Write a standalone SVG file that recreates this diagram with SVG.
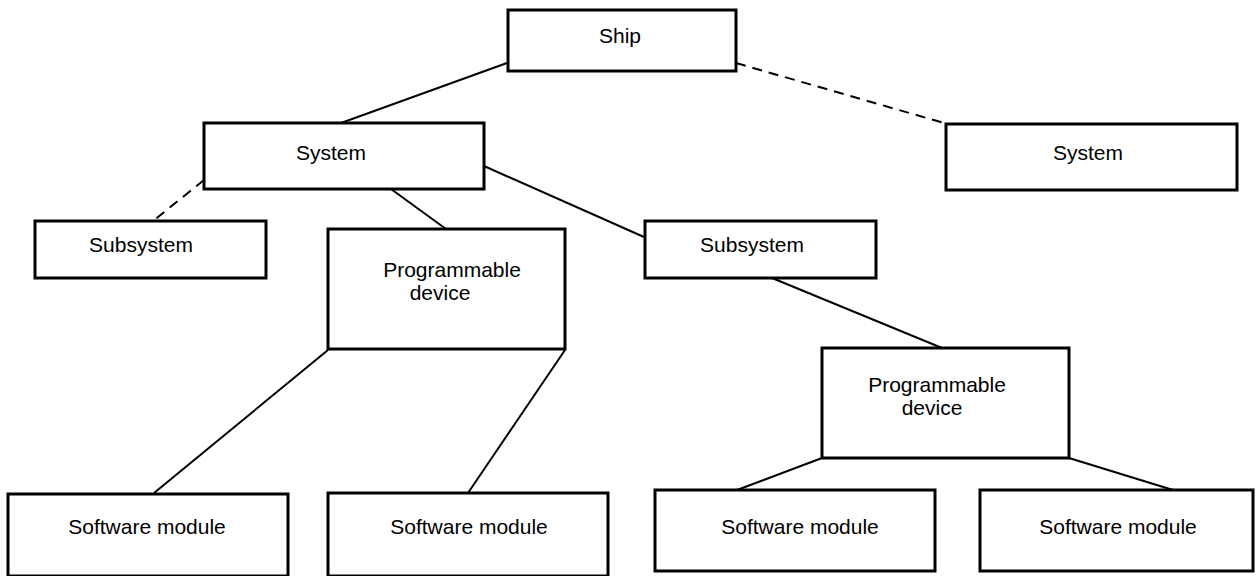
<svg xmlns="http://www.w3.org/2000/svg" width="1256" height="576" viewBox="0 0 1256 576">
<style>
.box{fill:#fff;stroke:#000;stroke-width:3}
.lbl{font-family:"Liberation Sans",Arial,sans-serif;font-size:21px;fill:#000;text-anchor:middle}
.ln{stroke:#000;stroke-width:2;fill:none}
.dash{stroke-dasharray:10 7}
</style>
<rect width="1256" height="576" fill="#fff"/>
<g id="connectors">
<line class="ln" x1="507" y1="63" x2="341" y2="123"/>
<line class="ln dash" x1="736" y1="63" x2="944" y2="123"/>
<line class="ln dash" x1="204" y1="180" x2="153" y2="221"/>
<line class="ln" x1="391" y1="189" x2="446" y2="229"/>
<line class="ln" x1="484" y1="166" x2="644" y2="237"/>
<line class="ln" x1="772" y1="278" x2="942" y2="348"/>
<line class="ln" x1="328" y1="350" x2="154" y2="493"/>
<line class="ln" x1="565" y1="350" x2="468" y2="493"/>
<line class="ln" x1="822" y1="458" x2="737" y2="490"/>
<line class="ln" x1="1069" y1="458" x2="1173" y2="490"/>
</g>
<g id="ship"><rect class="box" x="508" y="10" width="228" height="61"/><text class="lbl" x="620" y="43">Ship</text></g>
<g id="system-left"><rect class="box" x="204" y="123" width="280" height="66"/><text class="lbl" x="331" y="160">System</text></g>
<g id="system-right"><rect class="box" x="946" y="124" width="291" height="66"/><text class="lbl" x="1088" y="160">System</text></g>
<g id="subsystem-left"><rect class="box" x="35" y="221" width="231" height="57"/><text class="lbl" x="141" y="252">Subsystem</text></g>
<g id="programmable-device-1"><rect class="box" x="328" y="229" width="237" height="120"/><text class="lbl" x="452" y="277">Programmable</text><text class="lbl" x="440" y="300">device</text></g>
<g id="subsystem-right"><rect class="box" x="645" y="221" width="231" height="57"/><text class="lbl" x="752" y="252">Subsystem</text></g>
<g id="programmable-device-2"><rect class="box" x="822" y="348" width="247" height="110"/><text class="lbl" x="937" y="392">Programmable</text><text class="lbl" x="932" y="415">device</text></g>
<g id="software-module-1"><rect class="box" x="8" y="494" width="280" height="82"/><text class="lbl" x="147" y="534">Software module</text></g>
<g id="software-module-2"><rect class="box" x="328" y="493" width="280" height="83"/><text class="lbl" x="469" y="534">Software module</text></g>
<g id="software-module-3"><rect class="box" x="655" y="490" width="280" height="81"/><text class="lbl" x="800" y="534">Software module</text></g>
<g id="software-module-4"><rect class="box" x="980" y="490" width="273" height="81"/><text class="lbl" x="1118" y="534">Software module</text></g>
</svg>
